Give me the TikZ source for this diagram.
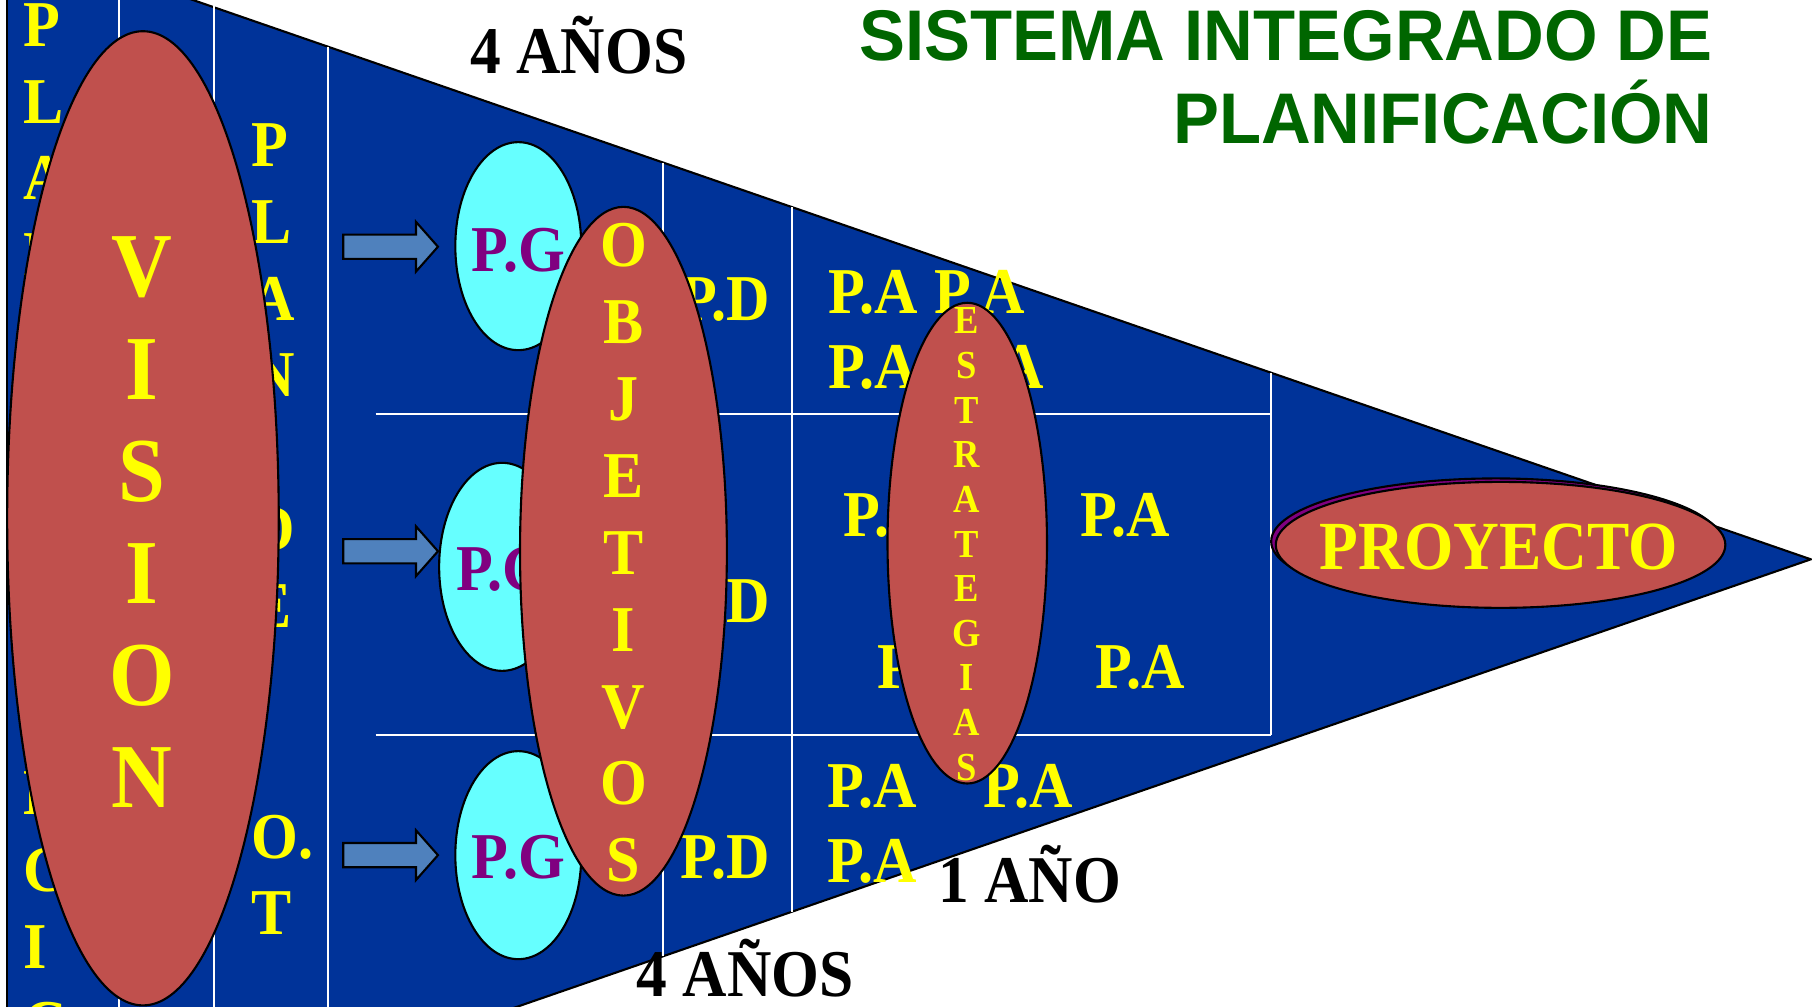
\documentclass[tikz,border=0pt]{standalone}
\usepackage{fontspec}
\setmainfont{Liberation Serif}[FakeStretch=0.92]
\newfontfamily\titlefont{Liberation Sans}[FakeStretch=0.96]
\usetikzlibrary{shapes.geometric}
\definecolor{bluebg}{RGB}{0,51,153}
\definecolor{redfill}{RGB}{192,80,77}
\definecolor{cyanfill}{RGB}{102,255,255}
\definecolor{arrowfill}{RGB}{79,129,189}
\definecolor{purp}{RGB}{128,0,128}
\definecolor{titlegreen}{RGB}{0,102,0}
\definecolor{yel}{RGB}{255,255,0}
\newdimen\pxu
\pxu=0.011556cm
\begin{document}
\begin{tikzpicture}[x=\pxu,y=-\pxu,
  every node/.style={inner sep=0pt,outer sep=0pt},
  wline/.style={white,line width=0.6pt},
  edge/.style={black,line width=0.6pt},
  ell/.style={ellipse,draw=black,line width=0.6pt},
  redell/.style={ell,fill=redfill},
  cyanell/.style={ell,fill=cyanfill},
  blockarrow/.style={draw=black,line width=0.6pt,fill=arrowfill},
  bigtxt/.style={font=\bfseries\fontsize{18.6pt}{20pt}\selectfont},
  yeltxt/.style={bigtxt,text=yel},
  pgtxt/.style={bigtxt,text=purp},
  vistxt/.style={font=\bfseries\fontsize{26pt}{28pt}\selectfont,text=yel},
  smalltxt/.style={font=\bfseries\fontsize{11.3pt}{12pt}\selectfont,text=yel},
  proytxt/.style={font=\bfseries\fontsize{19.6pt}{21pt}\selectfont,text=yel},
  blktxt/.style={font=\bfseries\fontsize{19pt}{21pt}\selectfont,text=black},
  titletxt/.style={font=\titlefont\bfseries\fontsize{20.4pt}{22pt}\selectfont,text=titlegreen}
]
\useasboundingbox (0,0) rectangle (1568,871);
\clip (0,0) rectangle (1568,871);

% pennant
\fill[bluebg] (6,-5) -- (152.5,-5) -- (1567,484) -- (448,871) -- (448,880) -- (6,880) -- cycle;
\draw[edge] (6,880) -- (6,-5);
\draw[edge] (152.5,-5) -- (1567,484) -- (422,880);

% white grid lines
\draw[wline] (103,0) -- (103,871);
\draw[wline] (185.5,0) -- (185.5,871);
\draw[wline] (284,40.5) -- (284,871);
\draw[wline] (574,141) -- (574,827.4);
\draw[wline] (685,179.2) -- (685,789);
\draw[wline] (1100,322.6) -- (1100,636);
\draw[wline] (325,358) -- (1100,358);
\draw[wline] (325,636) -- (1100,636);

% column 1 letters
\foreach \l [count=\i from 0] in {P,L,A,N,E,S,T,R,A,T,E,G,I,C,O}
  \node[yeltxt,anchor=base west] (pe\i) at (20,{40+66.5*\i}) {\l};
% column 2 letters
\foreach \k/\l in {0/P,1/L,2/A,3/N,5/D,6/E,9/O.,10/T}
  \node[yeltxt,anchor=base west] (pd\k) at (218,{144+66.5*\k}) {\l};

% VISION
\node[redell,minimum width={235*\pxu},minimum height={843*\pxu}] (vision) at (123.7,448.5) {};
\foreach \l [count=\i from 0] in {V,I,S,I,O,N}
  \node[vistxt,anchor=base] (vis\i) at (123,{257+88.4*\i}) {\l};

% block arrows
\foreach \y in {213.5,477,740}
  \draw[blockarrow] (297,{\y-10.5}) -- (360,{\y-10.5}) -- (360,{\y-21.5}) -- (379,\y)
    -- (360,{\y+21.5}) -- (360,{\y+10.5}) -- (297,{\y+10.5}) -- cycle;

% P.G ellipses
\node[cyanell,minimum width={109*\pxu},minimum height={180*\pxu}] (pg1) at (448.5,213) {};
\node[cyanell,minimum width={109*\pxu},minimum height={180*\pxu}] (pg2) at (434.5,490.5) {};
\node[cyanell,minimum width={109*\pxu},minimum height={180*\pxu}] (pg3) at (448.5,740) {};
\node[pgtxt,anchor=base] (pgt1) at (448.5,235) {P.G};
\node[pgtxt,anchor=base] (pgt2) at (435,511) {P.G};
\node[pgtxt,anchor=base] (pgt3) at (448.5,760) {P.G};

% P.D
\node[yeltxt,anchor=base west] (pdt1) at (589,277) {P.D};
\node[yeltxt,anchor=base west] (pdt2) at (589,539) {P.D};
\node[yeltxt,anchor=base west] (pdt3) at (589,760) {P.D};

% P.A
\node[yeltxt,anchor=base west] (pa1) at (717,271) {P.A};
\node[yeltxt,anchor=base west] (pa2) at (809,271) {P.A};
\node[yeltxt,anchor=base west] (pa3) at (717,336) {P.A};
\node[yeltxt,anchor=base west] (pa4) at (826,336) {P.A};
\node[yeltxt,anchor=base west] (pa5) at (730,464) {P.A};
\node[yeltxt,anchor=base west] (pa6) at (935,464) {P.A};
\node[yeltxt,anchor=base west] (pa7) at (759,596) {P.A};
\node[yeltxt,anchor=base west] (pa8) at (948,596) {P.A};
\node[yeltxt,anchor=base west] (pa9) at (716,699) {P.A};
\node[yeltxt,anchor=base west] (pa10) at (851,699) {P.A};
\node[yeltxt,anchor=base west] (pa11) at (716,764) {P.A};

% OBJETIVOS
\node[redell,minimum width={179*\pxu},minimum height={596*\pxu}] (obj) at (539.5,477) {};
\foreach \l [count=\i from 0] in {O,B,J,E,T,I,V,O,S}
  \node[yeltxt,anchor=base] (ob\i) at (539.5,{231+66.5*\i}) {\l};

% ESTRATEGIAS
\node[redell,minimum width={138*\pxu},minimum height={416*\pxu}] (estr) at (837,470) {};
\foreach \l [count=\i from 0] in {E,S,T,R,A,T,E,G,I,A,S}
  \node[smalltxt,anchor=base] (es\i) at (836.5,{289+38.6*\i}) {\l};

% PROYECTO
\node[ell,fill=purp,minimum width={389*\pxu},minimum height={109*\pxu}] (proyback) at (1294.5,468.5) {};
\node[redell,minimum width={389*\pxu},minimum height={109*\pxu}] (proy) at (1298.5,471.5) {};
\node[proytxt,anchor=base] (proyt) at (1297,493) {PROYECTO};

% titles and durations
\node[titletxt,anchor=base east] (title1) at (1482,52.5) {SISTEMA INTEGRADO DE};
\node[titletxt,anchor=base east] (title2) at (1482,124) {PLANIFICACIÓN};
\node[blktxt,anchor=base west] (anos1) at (407,63.5) {4 AÑOS};
\node[blktxt,anchor=base west] (anos2) at (551,862.5) {4 AÑOS};
\node[blktxt,anchor=base west] (ano1) at (812,781) {1 AÑO};
\end{tikzpicture}
\end{document}
